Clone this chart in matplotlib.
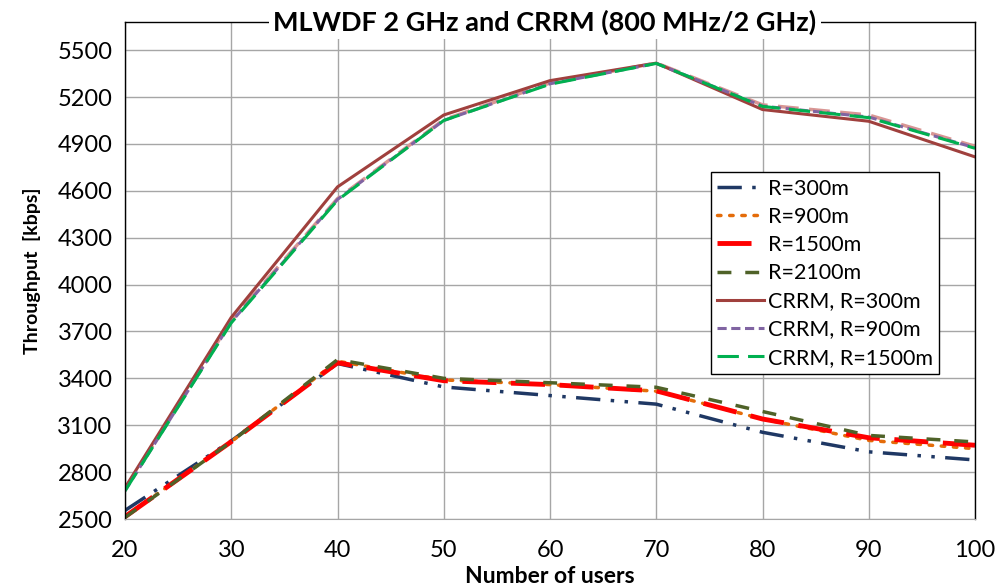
import matplotlib
matplotlib.use("Agg")
import matplotlib.pyplot as plt
from matplotlib.ticker import MultipleLocator

plt.rcParams['font.family'] = ['Lato', 'DejaVu Sans']

# dados
usuarios = [20, 30, 40, 50, 60, 70, 80, 90, 100]

r300 = [2555, 3000, 3495, 3345, 3290, 3235, 3055, 2930, 2878]
r900 = [2515, 2995, 3510, 3390, 3360, 3318, 3140, 3003, 2950]
r1500 = [2515, 2995, 3500, 3385, 3360, 3320, 3140, 3020, 2972]
r2100 = [2510, 2995, 3520, 3400, 3372, 3343, 3188, 3035, 2993]

crrm300 = [2700, 3790, 4625, 5085, 5305, 5417, 5120, 5045, 4817]
crrm900 = [2680, 3760, 4545, 5050, 5285, 5415, 5142, 5072, 4875]
crrm1500 = [2680, 3755, 4540, 5050, 5282, 5415, 5140, 5068, 4872]
crrm2100 = [2690, 3770, 4550, 5055, 5290, 5418, 5150, 5085, 4885]

fig = plt.figure(figsize=(10, 5.87), dpi=100)
ax = fig.add_axes([0.125, 0.1158, 0.85, 0.8467])

ax.plot(usuarios, crrm2100, color='#D99694', lw=2.5, dashes=(6, 3))
ax.plot(usuarios, crrm300, color='#A0403D', lw=2.2, label='CRRM, R=300m')
ax.plot(usuarios, crrm900, color='#8064A2', lw=2.2, dashes=(3, 1.5), label='CRRM, R=900m')
ax.plot(usuarios, crrm1500, color='#00B050', lw=2.2, dashes=(7, 3), label='CRRM, R=1500m')

l1, = ax.plot(usuarios, r300, color='#1F3864', lw=2.5, dashes=(7, 3, 1, 3, 1, 3), label='R=300m')
l2, = ax.plot(usuarios, r900, color='#E46C0A', lw=2.5, dashes=(1, 2.5), dash_capstyle='round', label='R=900m')
l3, = ax.plot(usuarios, r1500, color='#FF0000', lw=3.5, dashes=(7, 3), label='R=1500m')
l4, = ax.plot(usuarios, r2100, color='#4F6228', lw=2.5, dashes=(4, 4), label='R=2100m')

ax.set_xlim(20, 100)
ax.set_ylim(2500, 5680)
ax.xaxis.set_major_locator(MultipleLocator(10))
ax.set_yticks(range(2500, 5501, 300))
ax.grid(True, color='#A6A6A6', lw=1)
ax.set_axisbelow(True)
ax.tick_params(length=0, labelsize=17)
ax.tick_params(axis='y', pad=9)
ax.tick_params(axis='x', pad=15)

for s in ['top', 'left', 'right']:
    ax.spines[s].set_color('black')
    ax.spines[s].set_linewidth(1)
ax.spines['bottom'].set_color('#A6A6A6')

ax.set_xlabel('Number of users', fontsize=16.5, fontweight='bold', labelpad=4)
ax.set_ylabel('Throughput  [kbps]', fontsize=14, fontweight='bold', labelpad=12)

ax.text(0.494, 1.0, 'MLWDF 2 GHz and CRRM (800 MHz/2 GHz)', transform=ax.transAxes,
        ha='center', va='center', fontsize=19.5, fontweight='bold',
        bbox=dict(facecolor='white', edgecolor='none', pad=3))

handles = [l1, l2, l3, l4] + ax.get_lines()[1:4]
leg = ax.legend(handles=handles, loc='upper left', bbox_to_anchor=(0.689, 0.698),
                fontsize=15.5, frameon=True, fancybox=False, framealpha=1,
                handlelength=2.2, handletextpad=0.15, labelspacing=0.38,
                borderpad=0.3, borderaxespad=0)
leg.get_frame().set_edgecolor('black')
leg.get_frame().set_linewidth(1)

fig.savefig('out.png', dpi=100)
